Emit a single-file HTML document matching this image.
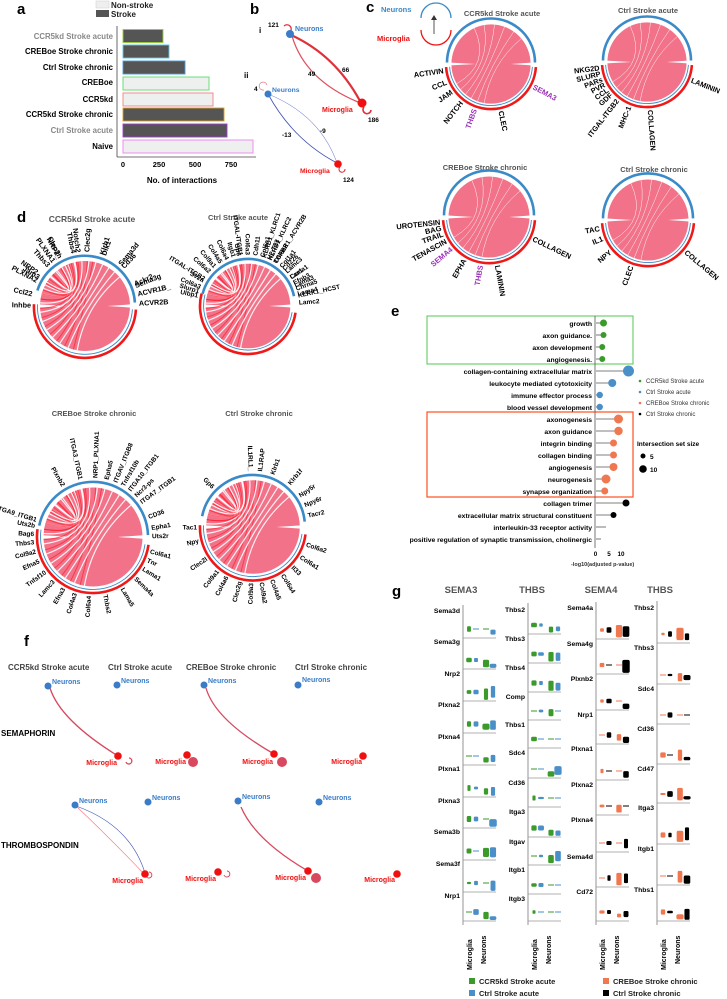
<!DOCTYPE html>
<html><head><meta charset="utf-8"><style>
html,body{margin:0;padding:0;background:#fff}
svg{display:block;font-family:"Liberation Sans",Arial,sans-serif}
.b{font-weight:bold}
</style></head><body>
<svg id="s" width="727" height="999" viewBox="0 0 727 999" xmlns="http://www.w3.org/2000/svg">
<!-- panel a -->
<text x="17" y="14" font-size="15" class="b">a</text>
<rect x="96" y="1" width="13" height="7" fill="#eef0ef" stroke="#ccc" stroke-width="0.5"/>
<rect x="96" y="10" width="13" height="7" fill="#555"/>
<text x="111" y="8" font-size="8" class="b" fill="#222">Non-stroke</text>
<text x="111" y="17" font-size="8" class="b" fill="#222">Stroke</text>
<line x1="117" y1="26" x2="117" y2="157" stroke="#444" stroke-width="0.8"/>
<line x1="117" y1="157" x2="256" y2="157" stroke="#444" stroke-width="0.8"/>
<g stroke-width="0.9">
<rect x="123" y="29.5" width="40" height="13" fill="#555" stroke="#9acd32"/>
<rect x="123" y="45" width="46" height="13" fill="#555" stroke="#5bc8e0"/>
<rect x="123" y="61" width="62" height="13" fill="#555" stroke="#4a9ad4"/>
<rect x="123" y="77" width="86" height="13" fill="#eef0ef" stroke="#5ddc6a"/>
<rect x="123" y="93" width="90" height="13" fill="#eef0ef" stroke="#f08080"/>
<rect x="123" y="108" width="101" height="13" fill="#555" stroke="#d4a020"/>
<rect x="123" y="124" width="104" height="13" fill="#555" stroke="#a040d0"/>
<rect x="123" y="140" width="130" height="13" fill="#eef0ef" stroke="#f080f0"/>
</g>
<g font-size="7.8" class="b" text-anchor="end">
<text x="113" y="39" fill="#888">CCR5kd Stroke acute</text>
<text x="113" y="54">CREBoe Stroke chronic</text>
<text x="113" y="70">Ctrl Stroke chronic</text>
<text x="113" y="85">CREBoe</text>
<text x="113" y="102">CCR5kd</text>
<text x="113" y="117">CCR5kd Stroke chronic</text>
<text x="113" y="133" fill="#888">Ctrl Stroke acute</text>
<text x="113" y="149">Naive</text>
</g>
<g font-size="7.5" class="b" text-anchor="middle">
<text x="123" y="167">0</text><text x="159" y="167">250</text><text x="195" y="167">500</text><text x="231" y="167">750</text>
<text x="182" y="183" font-size="8">No. of interactions</text>
</g>
<!-- panel b -->
<text x="250" y="14" font-size="15" class="b">b</text>
<text x="259" y="33" font-size="8" class="b">i</text>
<text x="244" y="78" font-size="8" class="b">ii</text>
<path d="M291 35 Q335 55 360 101" fill="none" stroke="#e0303a" stroke-width="2.2"/>
<path d="M358 102 Q305 80 292 36" fill="none" stroke="#e05060" stroke-width="1.3"/>
<path d="M284 26 a4 4 0 1 1 6 6" fill="none" stroke="#e0303a" stroke-width="1.3"/>
<path d="M364 107 a4 4 0 1 0 7 3" fill="none" stroke="#e0303a" stroke-width="1.6"/>
<circle cx="290" cy="34" r="4" fill="#3a7cc8"/><circle cx="362" cy="103" r="4.5" fill="#f01010"/>
<text x="295" y="31" font-size="7" class="b" fill="#3a7cc8">Neurons</text>
<text x="322" y="112" font-size="7" class="b" fill="#f01010">Microglia</text>
<text x="268" y="27" font-size="6.5" class="b">121</text>
<text x="308" y="76" font-size="6.5" class="b">49</text>
<text x="342" y="72" font-size="6.5" class="b">66</text>
<text x="368" y="122" font-size="6.5" class="b">186</text>
<path d="M268 94 Q293 140 337 163" fill="none" stroke="#4050b0" stroke-width="0.8"/>
<path d="M268 94 Q320 115 337 163" fill="none" stroke="#8090d0" stroke-width="0.6"/>
<path d="M264 90 a4 4 0 1 1 3 -5" fill="none" stroke="#e06070" stroke-width="0.6"/>
<path d="M340 167 a3 3 0 1 0 5 2" fill="none" stroke="#e0303a" stroke-width="1"/>
<circle cx="268" cy="94" r="3.5" fill="#3a7cc8"/><circle cx="338" cy="164" r="3.8" fill="#f01010"/>
<text x="272" y="92" font-size="6.8" class="b" fill="#3a7cc8">Neurons</text>
<text x="300" y="173" font-size="6.8" class="b" fill="#f01010">Microglia</text>
<text x="254" y="91" font-size="6.5" class="b">4</text>
<text x="282" y="137" font-size="6.5" class="b">-13</text>
<text x="320" y="133" font-size="6.5" class="b">-9</text>
<text x="343" y="182" font-size="6.5" class="b">124</text>
<!-- panel c -->
<text x="366" y="12" font-size="15" class="b">c</text>
<path d="M421 18 A14 14 0 0 1 451 18" fill="none" stroke="#3a8ac8" stroke-width="1.3"/>
<path d="M421 30 A14 14 0 0 0 451 30" fill="none" stroke="#f01010" stroke-width="1.3"/>
<line x1="434" y1="34" x2="434" y2="17" stroke="#555" stroke-width="1"/>
<path d="M431 20 L434 15 L437 20Z" fill="#333"/>
<text x="381" y="12" font-size="7.5" class="b" fill="#3a8ac8">Neurons</text>
<text x="377" y="41" font-size="7.5" class="b" fill="#f01010">Microglia</text>
<g font-size="7.5" fill="#555" class="b" text-anchor="middle">
<text x="502" y="16">CCR5kd Stroke acute</text>
<text x="648" y="13">Ctrl Stroke acute</text>
<text x="485" y="170">CREBoe Stroke chronic</text>
<text x="654" y="172">Ctrl Stroke chronic</text>
<text x="92" y="222" font-size="8.5">CCR5kd Stroke acute</text>
<text x="238" y="220" font-size="7.5">Ctrl Stroke acute</text>
<text x="94" y="416" font-size="7.5">CREBoe Stroke chronic</text>
<text x="259" y="416" font-size="7.5">Ctrl Stroke chronic</text>
</g>
<text x="17" y="222" font-size="15" class="b">d</text>
<g id="chords"></g>
<!-- panel e -->
<text x="391" y="316" font-size="15" class="b">e</text>
<rect x="427" y="316" width="206" height="48" fill="none" stroke="#50c850" stroke-width="1"/>
<rect x="427" y="412" width="206" height="85" fill="none" stroke="#ff5020" stroke-width="1.2"/>
<line x1="595" y1="316" x2="595" y2="548" stroke="#555" stroke-width="0.8"/>
<g id="eplot"></g>
<g font-size="6.8" class="b" text-anchor="end">
<text x="592" y="326">growth</text><text x="592" y="338">axon guidance.</text><text x="592" y="350">axon development</text><text x="592" y="362">angiogenesis.</text>
<text x="592" y="374">collagen-containing extracellular matrix</text><text x="592" y="386">leukocyte mediated cytotoxicity</text><text x="592" y="398">immune effector process</text><text x="592" y="410">blood vessel development</text>
<text x="592" y="422">axonogenesis</text><text x="592" y="434">axon guidance</text><text x="592" y="446">integrin binding</text><text x="592" y="458">collagen binding</text><text x="592" y="470">angiogenesis</text><text x="592" y="482">neurogenesis</text><text x="592" y="494">synapse organization</text>
<text x="592" y="506">collagen trimer</text><text x="592" y="518">extracellular matrix structural constituent</text><text x="592" y="530">interleukin-33 receptor activity</text><text x="592" y="542">positive regulation of synaptic transmission, cholinergic</text>
</g>
<g font-size="6.3" class="b" text-anchor="middle"><text x="595.5" y="556">0</text><text x="609" y="556">5</text><text x="621" y="556">10</text></g>
<text x="571" y="566" font-size="5.5" class="b" fill="#333">-log10(adjusted p-value)</text>
<g font-size="6" fill="#333">
<circle cx="640" cy="381" r="1.3" fill="#3a9a2a"/><text x="646" y="383">CCR5kd Stroke acute</text>
<circle cx="640" cy="392" r="1.3" fill="#4a8fc8"/><text x="646" y="394">Ctrl Stroke acute</text>
<circle cx="640" cy="403" r="1.3" fill="#f07850"/><text x="646" y="405">CREBoe Stroke chronic</text>
<circle cx="640" cy="414" r="1.3" fill="#000"/><text x="646" y="416">Ctrl Stroke chronic</text>
</g>
<text x="637" y="446" font-size="6.5" class="b">Intersection set size</text>
<circle cx="643" cy="456" r="2.5"/><text x="650" y="459" font-size="6.5" class="b">5</text>
<circle cx="643" cy="469" r="3.8"/><text x="650" y="472" font-size="6.5" class="b">10</text>
<!-- panel f -->
<text x="24" y="646" font-size="15" class="b">f</text>
<g font-size="8" fill="#444" class="b">
<text x="8" y="670">CCR5kd Stroke acute</text><text x="108" y="670">Ctrl Stroke acute</text>
<text x="186" y="670">CREBoe Stroke chronic</text><text x="295" y="670">Ctrl Stroke chronic</text>
</g>
<g font-size="8" class="b"><text x="1" y="736">SEMAPHORIN</text><text x="1" y="848">THROMBOSPONDIN</text></g>
<g fill="none" stroke="#d8485e" stroke-width="1.3">
<path d="M118 756 Q60 720 50 688"/><path d="M274 754 Q215 720 206 688"/>
<path d="M308 871 Q255 840 241 807"/>
<path d="M126 762 a3 3 0 1 0 3 -4"/><path d="M224 875 a3 3 0 1 0 3 -4" stroke-width="1"/>
<path d="M146 876 a3 3 0 1 0 3 -4" stroke-width="1"/>
</g>
<path d="M145 875 Q112 840 76 806" fill="none" stroke="#ff7080" stroke-width="0.6"/>
<path d="M76 806 Q130 825 145 873" fill="none" stroke="#4050b0" stroke-width="0.6"/>
<g fill="#d8485e"><circle cx="193" cy="762" r="5"/><circle cx="282" cy="762" r="5"/><circle cx="316" cy="878" r="5"/></g>
<g fill="#3a7cc8"><circle cx="48" cy="686" r="3.5"/><circle cx="117" cy="685" r="3.5"/><circle cx="204" cy="685" r="3.5"/><circle cx="298" cy="685" r="3.5"/>
<circle cx="75" cy="805" r="3.5"/><circle cx="148" cy="802" r="3.5"/><circle cx="238" cy="801" r="3.5"/><circle cx="319" cy="802" r="3.5"/></g>
<g fill="#f01010"><circle cx="118" cy="756" r="3.8"/><circle cx="187" cy="755" r="3.8"/><circle cx="274" cy="754" r="3.8"/><circle cx="363" cy="756" r="3.8"/>
<circle cx="145" cy="874" r="3.8"/><circle cx="218" cy="872" r="3.8"/><circle cx="308" cy="871" r="3.8"/><circle cx="397" cy="874" r="3.8"/></g>
<g font-size="7" class="b" fill="#3a7cc8">
<text x="52" y="684">Neurons</text><text x="121" y="683">Neurons</text><text x="208" y="683">Neurons</text><text x="302" y="682">Neurons</text>
<text x="79" y="803">Neurons</text><text x="152" y="800">Neurons</text><text x="242" y="799">Neurons</text><text x="323" y="800">Neurons</text></g>
<g font-size="7" class="b" fill="#f01010" text-anchor="end">
<text x="117" y="765">Microglia</text><text x="186" y="764">Microglia</text><text x="273" y="764">Microglia</text><text x="362" y="764">Microglia</text>
<text x="143" y="883">Microglia</text><text x="216" y="881">Microglia</text><text x="306" y="880">Microglia</text><text x="395" y="882">Microglia</text></g>
<!-- panel g -->
<text x="392" y="596" font-size="15" class="b">g</text>
<g font-size="9.5" class="b" text-anchor="middle" fill="#555">
<text x="461" y="593">SEMA3</text><text x="532" y="593">THBS</text><text x="601" y="593">SEMA4</text><text x="660" y="593">THBS</text>
</g>
<g id="gplot"></g>
<g font-size="6.8" class="b" text-anchor="end">
<text x="460" y="613">Sema3d</text><text x="460" y="644">Sema3g</text><text x="460" y="676">Nrp2</text><text x="460" y="707">Plxna2</text><text x="460" y="739">Plxna4</text><text x="460" y="771">Plxna1</text><text x="460" y="803">Plxna3</text><text x="460" y="834">Sema3b</text><text x="460" y="866">Sema3f</text><text x="460" y="898">Nrp1</text>
<text x="525" y="612">Thbs2</text><text x="525" y="641">Thbs3</text><text x="525" y="670">Thbs4</text><text x="525" y="699">Comp</text><text x="525" y="727">Thbs1</text><text x="525" y="755">Sdc4</text><text x="525" y="785">Cd36</text><text x="525" y="814">Itga3</text><text x="525" y="844">Itgav</text><text x="525" y="872">Itgb1</text><text x="525" y="901">Itgb3</text>
<text x="593" y="610">Sema4a</text><text x="593" y="646">Sema4g</text><text x="593" y="681">Plxnb2</text><text x="593" y="717">Nrp1</text><text x="593" y="751">Plxna1</text><text x="593" y="787">Plxna2</text><text x="593" y="822">Plxna4</text><text x="593" y="859">Sema4d</text><text x="593" y="894">Cd72</text>
<text x="654" y="610">Thbs2</text><text x="654" y="650">Thbs3</text><text x="654" y="691">Sdc4</text><text x="654" y="731">Cd36</text><text x="654" y="771">Cd47</text><text x="654" y="810">Itga3</text><text x="654" y="851">Itgb1</text><text x="654" y="892">Thbs1</text>
</g>
<g font-size="7" class="b">
<text transform="translate(472,970) rotate(-90)">Microglia</text><text transform="translate(486,964) rotate(-90)">Neurons</text>
<text transform="translate(537,970) rotate(-90)">Microglia</text><text transform="translate(551,964) rotate(-90)">Neurons</text>
<text transform="translate(605,970) rotate(-90)">Microglia</text><text transform="translate(619,964) rotate(-90)">Neurons</text>
<text transform="translate(666,970) rotate(-90)">Microglia</text><text transform="translate(680,964) rotate(-90)">Neurons</text>
</g>
<g font-size="7.5" class="b" fill="#222">
<rect x="469" y="978" width="6" height="6" fill="#3a9a2a"/><text x="479" y="984">CCR5kd Stroke acute</text>
<rect x="469" y="990" width="6" height="6" fill="#4a8fc8"/><text x="479" y="996">Ctrl Stroke acute</text>
<rect x="603" y="978" width="6" height="6" fill="#f07850"/><text x="613" y="984">CREBoe Stroke chronic</text>
<rect x="603" y="990" width="6" height="6" fill="#000"/><text x="613" y="996">Ctrl Stroke chronic</text>
</g>
</svg>
<script>
var NS="http://www.w3.org/2000/svg";
function el(p,t,a,txt){var e=document.createElementNS(NS,t);for(var k in a)e.setAttribute(k,a[k]);if(txt!=null)e.textContent=txt;p.appendChild(e);return e;}
function P(cx,cy,r,a){a=a*Math.PI/180;return [cx+r*Math.cos(a),cy+r*Math.sin(a)];}
function arc(cx,cy,r,a0,a1){var p=P(cx,cy,r,a0),q=P(cx,cy,r,a1);return "M"+p[0].toFixed(1)+" "+p[1].toFixed(1)+" A"+r+" "+r+" 0 "+((a1-a0)>180?1:0)+" 1 "+q[0].toFixed(1)+" "+q[1].toFixed(1);}
var G=document.getElementById("chords");
function chord(cx,cy,r,blue,red,labels,fs,dense){
  el(G,"circle",{cx:cx,cy:cy,r:r*0.9,fill:"#f27389"});
  var g1=P(cx,cy,r*0.92,-2),g2=P(cx,cy,r*0.92,2),g3=P(cx,cy,r*0.92,178),g4=P(cx,cy,r*0.92,182);
  el(G,"path",{d:"M"+g1+" L"+[cx+r*0.45,cy]+" L"+g2+"Z",fill:"#fff"});
  el(G,"path",{d:"M"+g4+" L"+[cx-r*0.35,cy]+" L"+g3+"Z",fill:"#fff"});
  for(var i=0;i<(dense?14:6);i++){var a=100+i*(dense?12:10);var p=P(cx,cy,r*0.9,a),q=P(cx,cy,r*0.9,-40-i*(dense?9:15));
    el(G,"path",{d:"M"+p+" Q"+cx+" "+cy+" "+q,fill:"none",stroke:"#fff","stroke-width":dense?1.2:0.5,opacity:0.9});
    if(dense){el(G,"path",{d:"M"+P(cx,cy,r*0.9,a+5)+" Q"+cx+" "+cy+" "+P(cx,cy,r*0.9,-80-i*7),fill:"none",stroke:"#ff2030","stroke-width":1,opacity:0.7});}}
  el(G,"path",{d:arc(cx,cy,r,blue[0],blue[1]),fill:"none",stroke:"#3a8ac8","stroke-width":2.6});
  el(G,"path",{d:arc(cx,cy,r+1,red[0],red[1]),fill:"none",stroke:"#f01818","stroke-width":2.6});
  el(G,"path",{d:arc(cx,cy,r-2.5,red[0],red[1]),fill:"none",stroke:"#3a8ac8","stroke-width":0.9});
  labels.forEach(function(l){var a=l[1],p=P(cx,cy,r+4,a);var right=(Math.cos(a*Math.PI/180)>=0);
    el(G,"text",{x:0,y:0,"font-size":fs,"font-weight":"bold",fill:l[2]||"#000","text-anchor":right?"start":"end",
      transform:"translate("+p[0].toFixed(1)+","+p[1].toFixed(1)+") rotate("+(right?a:a+180)+") translate(0,"+(fs*0.35)+")"},l[0]);});
}
var PU="#9a30b8";
chord(491,64,44,[-178,-2],[4,176],[["ACTIVIN",172],["CCL",158],["JAM",145],["NOTCH",128],["THBS",110,PU],["CLEC",78],["SEMA3",28,PU]],7.5,false);
chord(647,62,44,[-178,-2],[4,176],[["NKG2D",173],["SLURP",166],["PARs",159],["PVR",152],["CCL",145],["GDF",138],["ITGAL-ITGB2",128],["MHC-1",112],["COLLAGEN",86],["LAMININ",22]],7.3,false);
chord(489,217,45,[-178,-2],[4,176],[["UROTENSIN",174],["BAG",167],["TRAIL",160],["TENASCIN",151],["SEMA4",140,PU],["EPHA",120],["THBS",100,PU],["LAMININ",80],["COLLAGEN",26]],7.5,false);
chord(648,220,45,[-178,-2],[4,176],[["TAC",170],["IL1",158],["NPY",140],["CLEC",110],["COLLAGEN",40]],7.5,false);
chord(85,306,50,[-162,-4],[4,182],[["PLXNA2",-152],["NRP2_",-145],["PLXNA1",-125],["NRP2_",-118],["Notch2",-97],["Klrb1",-72],["Cd36",-46],["Ackr2",-24],["ACVR1B_",-13],["ACVR2B",-3],["Inhbe",181],["Ccl22",193],["Jam3",212],["Thbs3",228],["Clec2h",243],["Thbs4",258],["Clec2g",272],["Dlk1",290],["Sema3d",310],["Sema3g",338]],7.2,true);
chord(248,306,47,[-165,-12],[8,195],[["Sv2a",-150],["Gp6",-100],["KLRD1_KLRC1",-72],["KLRD1_KLRC2",-65],["TGFBR1_ACVR2B",-58],["Cd226",-46],["Ccr1",-34],["Efnb3",-27],["Chrna5",-20],["KLRK1_HCST",-12],["Ulbp1",192],["Slurp1",197],["Col6a3",202],["ITGAL-ITGB2",212],["Col6a2",222],["Col9a1",230],["Col4a5",238],["Col6a4",246],["Itgb1",254],["ITGAL-ITGB1",262],["Col6a3",270],["Cdh11",278],["Col6a1",286],["H2-T23",294],["Col6a2",302],["Col1a1",310],["Lamc3",318],["Lama1",326],["Lama3",336],["Lama4",346],["Lamc2",356]],6.5,true);
chord(93,537,55,[-168,-2],[8,188],[["ITGA9_ITGB1",-163],["Plxnb2",-120],["ITGA3_ITGB1",-102],["NRP1_PLXNA1",-88],["Epha5",-77],["ITGAV_ITGB8",-68],["Tnfrsf10b",-60],["ITGA10_ITGB1",-52],["Ncr3-ps",-44],["ITGA7_ITGB1",-36],["CD36",-20],["Epha1",-9],["Uts2r",-1],["Col6a1",14],["Tnr",23],["Lama1",32],["Sema4a",44],["Lama5",60],["Thbs2",78],["Col6a4",94],["Col4a3",108],["Efna3",120],["Lamc3",132],["Tnfsf10",144],["Efna5",156],["Col9a2",166],["Thbs3",175],["Bag6",183],["Uts2b",191]],6.5,true);
chord(253,527,52,[-168,-6],[8,182],[["Gp6",-135],["IL1RL1_",-92],["IL1RAP",-83],["Klrb1",-70],["Klrb1f",-50],["Npy5r",-34],["Npy6r",-23],["Tacr2",-12],["Col6a2",18],["Col6a1",32],["Il33",45],["Col6a4",58],["Col4a5",70],["Col9a2",81],["Col9a3",92],["Clec2g",104],["Col4a6",118],["Col9a1",129],["Clec2l",146],["Npy",166],["Tac1",180]],6.5,true);
var E=document.getElementById("eplot");
var ed=[[3,3.5,"#3a9a2a"],[3,3,"#3a9a2a"],[2.5,3,"#3a9a2a"],[2.5,3,"#3a9a2a"],[13,5.5,"#4a8fc8"],[6.5,4,"#4a8fc8"],[1.5,3.2,"#4a8fc8"],[1.5,3.2,"#4a8fc8"],
[9,4.5,"#f07850"],[9,4.2,"#f07850"],[7,3.5,"#f07850"],[7,3.5,"#f07850"],[7,4,"#f07850"],[4,4.5,"#f07850"],[3.5,3.5,"#f07850"],[12,3.5,"#000"],[7,3,"#000"],[4,0,"#000"],[2,0,"#000"]];
ed.forEach(function(d,i){var y=323+i*12,x=596+d[0]*2.5;el(E,"line",{x1:596,y1:y,x2:x,y2:y,stroke:"#555","stroke-width":0.8});if(d[1]>0)el(E,"circle",{cx:x,cy:y,r:d[1],fill:d[2]});});
var Gp=document.getElementById("gplot");
var cols=[[463,[611,642,673,705,737,769,801,832,864,896],"#3a9a2a","#4a8fc8"],[528,[609,638,667,696,724,752,782,811,841,869,898],"#3a9a2a","#4a8fc8"],
[596,[608,643,678,714,748,784,819,856,891],"#f07850","#000"],[657,[607,647,688,728,768,807,848,889],"#f07850","#000"]];
var seed=11;function rnd(){seed=(seed*9301+49297)%233280;return seed/233280;}
cols.forEach(function(c){var x0=c[0],ys=c[1];el(Gp,"line",{x1:x0,y1:ys[0]-6,x2:x0,y2:925,stroke:"#666","stroke-width":0.7});
  ys.forEach(function(y,i){var base=(i+1<ys.length?ys[i+1]:925)-4;var mid=base-9;
    el(Gp,"line",{x1:x0,y1:base,x2:x0+33,y2:base,stroke:"#999","stroke-width":0.8});
    var xs=[6,13,23,30],col=[c[2],c[3],c[2],c[3]];
    xs.forEach(function(dx,k){var r=rnd();
      if(r<0.3){el(Gp,"line",{x1:x0+dx-3,y1:mid,x2:x0+dx+3,y2:mid,stroke:col[k],"stroke-width":1});}
      else{var h=k>1?3+rnd()*10:2+rnd()*4;var w=k>1?2+rnd()*1.8:1.5+rnd()*1.5;var cy=k>1?base-1-rnd()*3:mid+h/2;
        el(Gp,"rect",{x:x0+dx-w,y:cy-h,width:2*w,height:h,rx:w*0.5,fill:col[k]});}});
  });});
</script>
</body></html>
